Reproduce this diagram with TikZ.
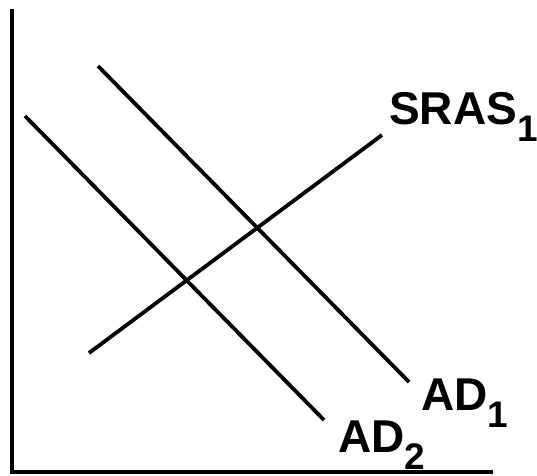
\documentclass[tikz,border=0pt]{standalone}
\usepackage{fontspec}
\setmainfont{Liberation Sans}
\newcommand\lblsub[1]{\raisebox{-17pt}{\fontsize{37}{37}\selectfont #1}}
\begin{document}
\begin{tikzpicture}[x=1pt,y=-1pt,
    curve/.style={line width=3.8pt},
    axis/.style={line width=3.6pt},
    lbl/.style={font=\fontsize{46}{46}\selectfont\bfseries, inner sep=0pt, anchor=base west}]
    \useasboundingbox (0,0) rectangle (537,475);
    % axes
    \coordinate (top) at (12,9);
    \coordinate (origin) at (12,472);
    \coordinate (right) at (493,472);
    \draw[axis] (top) -- (origin) -- (right);
    % curves
    \coordinate (ad1a) at (98,66);
    \coordinate (ad1b) at (409,382);
    \coordinate (ad2a) at (25,116);
    \coordinate (ad2b) at (324,420);
    \coordinate (srasa) at (89,353);
    \coordinate (srasb) at (382,135);
    \draw[curve] (ad1a) -- (ad1b);
    \draw[curve] (ad2a) -- (ad2b);
    \draw[curve] (srasa) -- (srasb);
    % labels
    \node[lbl] (sraslbl) at (389,124) {SRAS\lblsub{1}};
    \node[lbl] (ad1lbl) at (421,410) {AD\lblsub{1}};
    \node[lbl] (ad2lbl) at (338,452) {AD\lblsub{2}};
\end{tikzpicture}
\end{document}
